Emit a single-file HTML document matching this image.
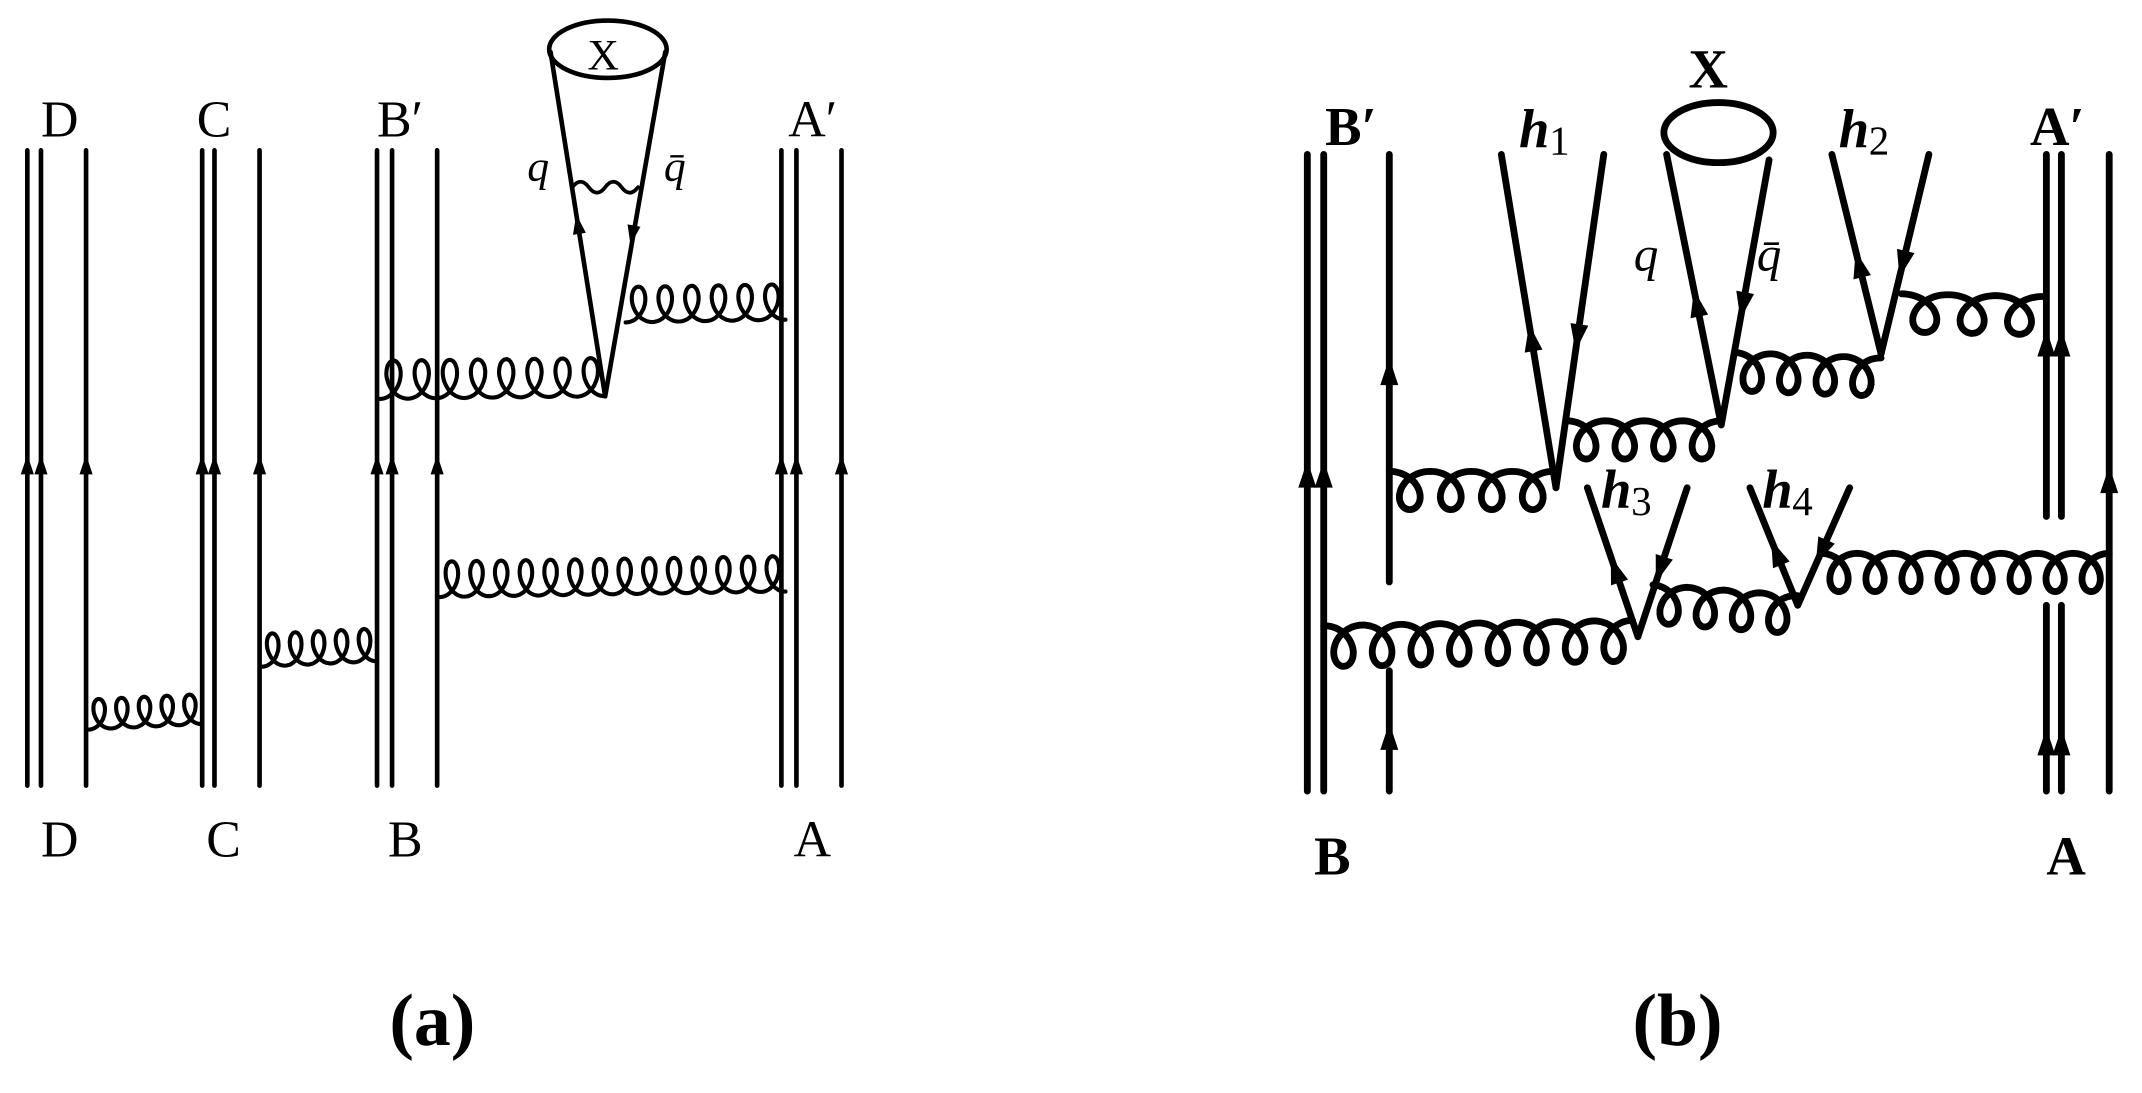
<!DOCTYPE html>
<html><head><meta charset="utf-8"><style>
html,body{margin:0;padding:0;background:#fff;}
svg{display:block}
text{font-family:"Liberation Serif",serif;fill:#000}
</style></head><body>
<svg id="s" width="2142" height="1093" viewBox="0 0 1568 800" xmlns="http://www.w3.org/2000/svg">
<g id="g" stroke="#000" fill="none" stroke-linecap="round"></g>
<g font-size="38">
<text x="30" y="100">D</text><text x="144" y="100">C</text><text x="276" y="100">B′</text><text x="577" y="100">A′</text>
<text x="30" y="627">D</text><text x="151" y="627">C</text><text x="284" y="627">B</text><text x="581" y="627">A</text>
<text x="430" y="51" font-size="32">X</text>
<text x="386" y="132" font-style="italic" font-size="32">q</text>
<text x="486" y="132" font-style="italic" font-size="32">q̄</text>
</g>
<g font-size="40" font-weight="bold">
<text x="970" y="106">B′</text><text x="1486" y="106">A′</text>
<text x="962" y="640">B</text><text x="1498" y="640">A</text>
<text x="1236" y="64">X</text>
<text x="1112" y="108" font-style="italic">h</text><text x="1134" y="113" font-size="30" font-weight="normal">1</text>
<text x="1346" y="108" font-style="italic">h</text><text x="1368" y="113" font-size="30" font-weight="normal">2</text>
<text x="1172" y="372" font-style="italic">h</text><text x="1194" y="377" font-size="30" font-weight="normal">3</text>
<text x="1290" y="372" font-style="italic">h</text><text x="1312" y="377" font-size="30" font-weight="normal">4</text>
<text x="1196" y="198" font-style="italic" font-weight="normal" font-size="36">q</text>
<text x="1286" y="198" font-style="italic" font-weight="normal" font-size="36">q̄</text>
</g>
<g font-size="54" font-weight="bold">
<text x="285" y="765">(a)</text><text x="1195" y="765">(b)</text>
</g>
</svg>
<script>
var g=document.getElementById('g'),o='';
function L(x1,y1,x2,y2,w){o+='<line x1="'+x1+'" y1="'+y1+'" x2="'+x2+'" y2="'+y2+'" stroke-width="'+w+'"/>';}
function A(x,y,dir,s){var h=s*1.8,w=s*0.6;
 o+='<path d="M'+x+' '+(y+dir*h/2)+' L'+(x-w)+' '+(y-dir*h/2)+' L'+(x+w)+' '+(y-dir*h/2)+'Z" fill="#000" stroke="none"/>';}
function AL(x1,y1,x2,y2,t,s){var x=x1+(x2-x1)*t,y=y1+(y2-y1)*t,dx=x2-x1,dy=y2-y1,l=Math.hypot(dx,dy);dx/=l;dy/=l;
 var h=s*1.8,w=s*0.6;var tx=x+dx*h/2,ty=y+dy*h/2,bx=x-dx*h/2,by=y-dy*h/2;
 o+='<path d="M'+tx+' '+ty+' L'+(bx-dy*w)+' '+(by+dx*w)+' L'+(bx+dy*w)+' '+(by-dx*w)+'Z" fill="#000" stroke="none"/>';}
function G(x1,y1,x2,y2,n,amp,sg,w){
 var dx=x2-x1,dy=y2-y1,Ln=Math.hypot(dx,dy),ux=dx/Ln,uy=dy/Ln,px=uy*sg,py=-ux*sg;
 var c=Ln/(2*Math.PI*n),R=c*3.0,d='',N=n*60;
 for(var i=0;i<=N;i++){var th=2*Math.PI*n*i/N;var u=c*th+R*Math.sin(th);var v=amp*(1-Math.cos(th))/2;
  var X=x1+ux*u+px*v,Y=y1+uy*u+py*v;d+=(i?'L':'M')+X.toFixed(1)+' '+Y.toFixed(1);}
 o+='<path d="'+d+'" stroke-width="'+w+'"/>';}
var wa=3.4;
[[20,30,63],[148,157,190],[276,287,320],[572,583,616]].forEach(function(p){
 p.forEach(function(x){L(x,110,x,575,wa);A(x,340,-1,8);});});
G(65,534,148,530,5,22,1,3);
G(192,488,276,484,5,24,1,3);
G(278,292,443,290,8,28,1,3);
G(458,236,575,234,6,26,1,3);
G(322,437,575,433,14,26,1,3);
L(443,290,403,38,wa);L(443,290,487,38,wa);
o+='<ellipse cx="445" cy="36" rx="43" ry="21" stroke-width="3.4"/>';
AL(443,290,403,38,0.5,8);AL(487,38,456,210,0.78,8);
o+='<path d="M419 137 q6 -8 12 0 t12 0 t12 0 t12 0" stroke-width="2.8"/>';
var wb=5;
L(957,113,957,579,wb);L(969,113,969,579,wb);A(957,347,-1,11);A(969,347,-1,11);
L(1017,113,1017,426,wb);L(1017,491,1017,579,wb);A(1017,272,-1,11);A(1017,539,-1,11);
L(1498,113,1498,378,wb);L(1509,113,1509,378,wb);L(1498,443,1498,579,wb);L(1509,443,1509,579,wb);
A(1498,251,-1,11);A(1509,251,-1,11);A(1498,543,-1,11);A(1509,543,-1,11);
L(1544,113,1544,579,wb);A(1544,351,-1,11);
function V(lx,ly,rx,ry,ax,ay){L(lx,ly,ax,ay,wb);L(rx,ry,ax,ay,wb);AL(ax,ay,lx,ly,0.45,11);AL(rx,ry,ax,ay,0.55,11);}
V(1099,113,1174,113,1139,357);
V(1220,113,1295,117,1260,311);
V(1341,113,1412,113,1377,259);
V(1162,357,1235,357,1199,466);
V(1281,357,1354,357,1316,443);
o+='<ellipse cx="1258" cy="97" rx="40" ry="22" stroke-width="5"/>';
G(1017,345,1137,345,4,28,-1,5);
G(1147,308,1260,308,4,28,-1,5);
G(1270,258,1377,262,4,28,-1,5);
G(1392,215,1496,217,3,28,-1,5);
G(969,458,1195,454,8,30,-1,5);
G(1210,428,1316,436,4,28,-1,5);
G(1333,405,1544,405,8,28,-1,5);
g.innerHTML=o;
</script>
</body></html>
